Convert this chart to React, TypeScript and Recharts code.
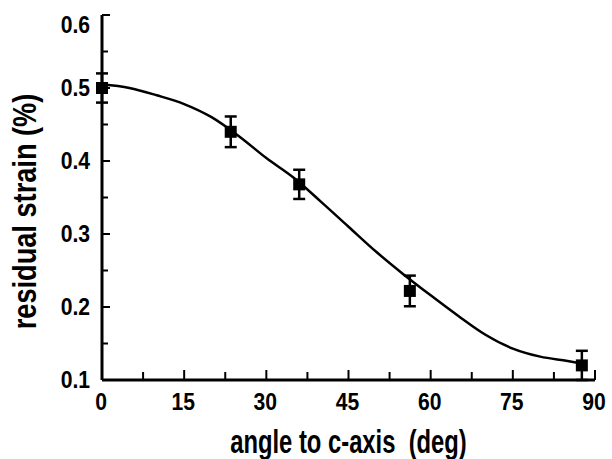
import React from "react";
import {
  ComposedChart,
  Line,
  Scatter,
  ErrorBar,
  XAxis,
  YAxis,
} from "recharts";

// measured points (angle in deg, residual strain in %)
const angles = [0, 23.5, 36, 56.2, 87.6];
const strains = [0.5, 0.44, 0.368, 0.222, 0.12];
const errors = [0.02, 0.021, 0.02, 0.021, 0.02];

// fitted curve
const fitAngles = [0, 5, 10, 15, 20, 25, 30, 35, 40, 45, 50, 55, 60, 65, 70, 75, 80, 85, 88];
const fitStrains = [0.505, 0.5, 0.49, 0.478, 0.46, 0.434, 0.404, 0.377, 0.344, 0.31, 0.276, 0.245, 0.216, 0.188, 0.162, 0.143, 0.132, 0.126, 0.122];

const xTicks = [0, 7.5, 15, 22.5, 30, 37.5, 45, 52.5, 60, 67.5, 75, 82.5, 90];
const yTicks = [0.1, 0.15, 0.2, 0.25, 0.3, 0.35, 0.4, 0.45, 0.5, 0.55, 0.6];

const xTitle = "angle to c-axis  (deg)";
const yTitle = "residual strain (%)";

const FONT = "'Liberation Sans', Arial, sans-serif";

const points = angles.map((a, i) => ({ x: a, y: strains[i], err: errors[i] }));
const fit = fitAngles.map((a, i) => ({ x: a, y: fitStrains[i] }));

// no condensed face installed, so squeeze the text horizontally
const Narrow = ({ x, y, size, squeeze, anchor, rotate = 0, children }: any) => (
  <g transform={`translate(${x},${y}) rotate(${rotate}) scale(${squeeze},1)`}>
    <text x={0} y={0} textAnchor={anchor} fontFamily={FONT} fontWeight="bold" fontSize={size} fill="#000" style={{ whiteSpace: "pre" }}>
      {children}
    </text>
  </g>
);

const XTick = (props: any) => {
  const { x, y, payload } = props;
  const v = payload.value;
  const major = v % 15 === 0;
  return (
    <g>
      <line x1={x} x2={x} y1={y} y2={y - (major ? 10 : 8)} stroke="#000" strokeWidth={2} />
      {major && (
        <Narrow x={x - 1} y={y + 30} size={24} squeeze={0.88} anchor="middle">
          {v}
        </Narrow>
      )}
    </g>
  );
};

const YTick = (props: any) => {
  const { x, y, payload } = props;
  const v = payload.value;
  const major = Math.abs(v * 10 - Math.round(v * 10)) < 1e-6;
  const top = Math.abs(v - 0.6) < 1e-6;
  return (
    <g>
      <line x1={x} x2={x + (major ? 8 : 6)} y1={y} y2={y} stroke="#000" strokeWidth={2} />
      {major && (
        <Narrow x={x - 12} y={y + (top ? 18 : 8)} size={24} squeeze={0.88} anchor="end">
          {v.toFixed(1)}
        </Narrow>
      )}
    </g>
  );
};

const XTitle = (props: any) => {
  const { viewBox } = props;
  return (
    <Narrow x={viewBox.x + viewBox.width / 2} y={viewBox.y + 73} size={34} squeeze={0.7} anchor="middle">
      {xTitle}
    </Narrow>
  );
};

const YTitle = (props: any) => {
  const { viewBox } = props;
  return (
    <Narrow x={36} y={viewBox.y + viewBox.height / 2 + 14} size={34} squeeze={0.8} anchor="middle" rotate={-90}>
      {yTitle}
    </Narrow>
  );
};

const Square = (props: any) => {
  const { cx, cy } = props;
  return <rect x={cx - 6} y={cy - 6} width={12} height={12} fill="#000" />;
};

export default function App() {
  return (
    <div style={{ position: "fixed", left: 0, top: 0, width: 612, height: 459, background: "#fff" }}>
      <ComposedChart width={612} height={459} margin={{ top: 15, right: 17, bottom: 19, left: 42 }}>
        <XAxis
          xAxisId="b"
          dataKey="x"
          type="number"
          domain={[0, 90]}
          ticks={xTicks}
          interval={0}
          height={60}
          tickSize={0}
          tickMargin={0}
          tickLine={false}
          tick={<XTick />}
          axisLine={{ stroke: "#000", strokeWidth: 3 }}
          label={<XTitle />}
        />
        <XAxis xAxisId="t" orientation="top" type="number" domain={[0, 90]} height={0} tick={false} tickLine={false} axisLine={{ stroke: "#000", strokeWidth: 2.5 }} />
        <YAxis
          yAxisId="l"
          type="number"
          domain={[0.1, 0.6]}
          ticks={yTicks}
          interval={0}
          width={60}
          tickSize={0}
          tickMargin={0}
          tickLine={false}
          tick={<YTick />}
          axisLine={{ stroke: "#000", strokeWidth: 3 }}
          label={<YTitle />}
        />
        <YAxis yAxisId="r" orientation="right" type="number" domain={[0.1, 0.6]} width={0} tick={false} tickLine={false} axisLine={{ stroke: "#000", strokeWidth: 2.5 }} />
        <Line
          xAxisId="b"
          yAxisId="l"
          data={fit}
          dataKey="y"
          type="monotone"
          stroke="#000"
          strokeWidth={2.5}
          dot={false}
          isAnimationActive={false}
        />
        <Scatter xAxisId="b" yAxisId="l" data={points} dataKey="y" shape={<Square />} isAnimationActive={false}>
          <ErrorBar dataKey="err" direction="y" width={6} stroke="#000" strokeWidth={2.5} isAnimationActive={false} />
        </Scatter>
      </ComposedChart>
    </div>
  );
}
